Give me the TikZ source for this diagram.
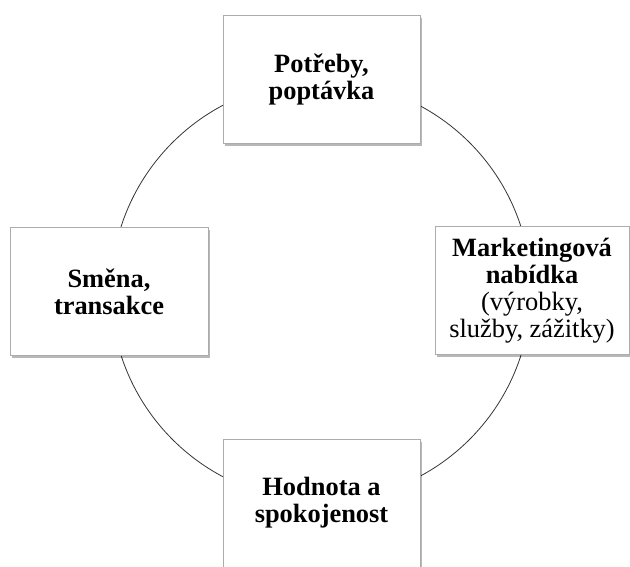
\documentclass[tikz,border=0pt]{standalone}
\usepackage{fontspec}
\setmainfont{Liberation Serif}
\usetikzlibrary{shadows}
\begin{document}
\begin{tikzpicture}[x=1pt,y=-1pt,
  cyclebox/.style={draw=gray!65, line width=1pt, fill=white,
    minimum width=197pt, minimum height=128pt, inner sep=2pt,
    align=center, font=\fontsize{26.4}{27}\selectfont,
    drop shadow={shadow xshift=2pt, shadow yshift=-2.5pt, fill=black, opacity=0.28}},
  ring/.style={draw=black!80, line width=0.8pt}]
  \useasboundingbox (0,0) rectangle (630,566);
  % cycle drawn first, boxes sit on top of it
  \coordinate (c) at (321,291);
  \draw[ring] (c) circle[radius=210pt];
  \node[cyclebox] (need) at (321.5,79) {\textbf{Potřeby,}\\\textbf{poptávka}};
  \node[cyclebox, minimum width=194pt] (offer) at (532,290.5)
    {\textbf{Marketingová}\\\textbf{nabídka}\\(výrobky,\\služby, zážitky)};
  \node[cyclebox] (value) at (321.5,503) {\textbf{Hodnota a}\\\textbf{spokojenost}};
  \node[cyclebox, minimum width=198pt] (trade) at (109,291.5) {\textbf{Směna,}\\\textbf{transakce}};
\end{tikzpicture}
\end{document}
